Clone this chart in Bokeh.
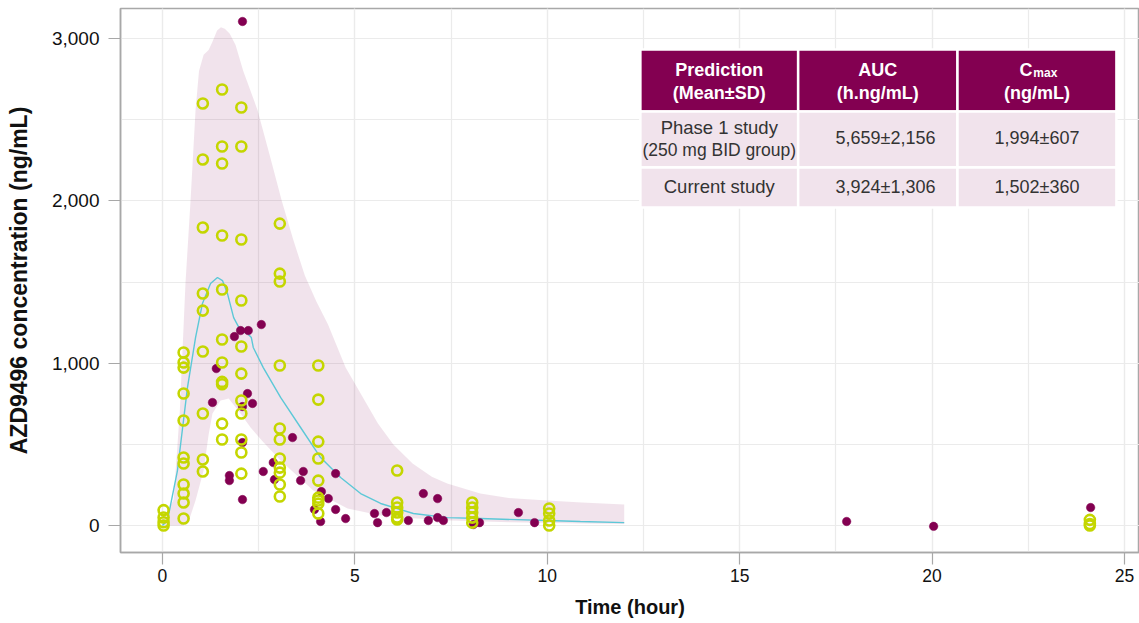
from bokeh.plotting import figure
from bokeh.models import Range1d, SingleIntervalTicker, NumeralTickFormatter
from bokeh.core.properties import value
from bokeh.embed import file_html
from bokeh.resources import INLINE

# ---------------- data ----------------
# Prediction band – upper edge, then lower edge (reversed)
band_up_t = [0.0, 0.15, 0.29, 0.45, 0.6, 0.73, 0.86, 0.95, 1.07, 1.2, 1.3, 1.42, 1.52, 1.62, 1.75, 1.9,
             2.1, 2.47, 2.8, 3.1, 3.4, 3.7, 4.0, 4.3, 4.76, 5.15, 5.6, 6.0, 6.5, 7.0, 7.4, 8.26, 9.0,
             10.0, 10.9, 12.0]
band_up_c = [40, 90, 160, 700, 1500, 2000, 2560, 2800, 2900, 2930, 2980, 3050, 3070, 3060, 3030, 2960,
             2800, 2560, 2270, 2000, 1760, 1540, 1380, 1240, 973, 813, 628, 500, 382, 300, 259, 197, 170,
             154, 142, 130]
band_lo_t = [12.0, 10.9, 9.0, 7.5, 6.5, 5.67, 4.81, 3.92, 3.07, 2.6, 2.29, 2.0, 1.72, 1.6, 1.51, 1.3,
             1.2, 1.07, 0.86, 0.7, 0.55, 0.0]
band_lo_c = [10, 12, 20, 31, 45, 62, 105, 216, 400, 520, 604, 700, 782, 775, 770, 690,
             560, 339, 154, 40, 0, 0]

# Median prediction
med_t = [0.0, 0.13, 0.39, 0.65, 0.86, 1.04, 1.25, 1.43, 1.56, 1.69, 1.85, 2.03, 2.21, 2.31, 2.36, 2.62,
         3.07, 3.59, 4.11, 4.63, 5.15, 5.67, 6.52, 7.41, 8.26, 10.0, 10.86, 12.0]
med_c = [0, 31, 339, 850, 1158, 1368, 1491, 1528, 1509, 1429, 1281, 1201, 1183, 1158, 1097, 973,
         789, 604, 419, 296, 197, 136, 74, 49, 43, 31, 25, 18]

# Phase 1 study observations (filled)
ph1_t = [2.08, 2.57, 2.03, 2.23, 1.87, 1.40, 2.21, 2.34, 1.30, 2.08, 2.08, 3.38, 2.88, 2.62, 2.91, 3.66,
         3.59, 4.50, 1.74, 1.74, 2.08, 4.13, 4.31, 3.95, 4.50, 4.11, 4.76, 5.51, 5.59, 5.82, 6.39, 6.78,
         7.15, 6.91, 7.15, 7.30, 8.08, 8.24, 9.25, 9.67, 17.78, 20.04, 24.12]
ph1_c = [3105, 1238, 1201, 1201, 1164, 967, 813, 752, 758, 733, 511, 542, 388, 333, 283, 333,
         277, 320, 308, 277, 160, 209, 166, 99, 99, 25, 43, 74, 18, 80, 31, 197,
         166, 31, 49, 31, 6, 18, 80, 18, 25, -5, 111]

# Current study observations (open)
cur_t = ([0.03] * 4 + [0.55] * 11 + [1.05] * 9 + [1.55] * 11 + [2.05] * 11 + [3.05] * 11 +
         [4.05] * 9 + [6.1] * 6 + [8.05] * 5 + [10.05] * 4 + [24.1] * 3)
cur_c = ([95, 50, 20, 0] +
         [1066, 1004, 973, 813, 647, 419, 382, 253, 197, 142, 43] +
         [2600, 2255, 1836, 1429, 1324, 1072, 690, 407, 333] +
         [2686, 2335, 2230, 1787, 1454, 1146, 1004, 885, 870, 628, 530] +
         [2575, 2335, 1762, 1386, 1103, 936, 770, 690, 530, 450, 320] +
         [1860, 1552, 1503, 986, 598, 530, 413, 357, 326, 253, 179] +
         [986, 776, 517, 413, 277, 172, 154, 135, 74] +
         [339, 142, 111, 80, 49, 37] +
         [142, 111, 80, 49, 18] +
         [105, 74, 31, 0] +
         [35, 10, 0])

# Table contents
tbl_header_l1 = ["Prediction", "AUC", ""]
tbl_header_l2 = ["(Mean±SD)", "(h.ng/mL)", "(ng/mL)"]
tbl_row1_name = ["Phase 1 study", "(250 mg BID group)"]
tbl_row1_vals = ["5,659±2,156", "1,994±607"]
tbl_row2_name = ["Current study"]
tbl_row2_vals = ["3,924±1,306", "1,502±360"]

# ---------------- styles ----------------
MULB = "#830051"
LIME = "#C4D600"
CYAN = "#5CC8D7"
PINK = "#F1E3EC"
FONT = "Liberation Sans"

p = figure(width=1139, height=623,
           x_range=Range1d(-1.09, 25.39), y_range=Range1d(-166, 3185),
           output_backend="svg", toolbar_location=None,
           min_border_left=120, min_border_right=0, min_border_top=8, min_border_bottom=71)
p.background_fill_color = "white"
p.border_fill_color = "white"
p.outline_line_color = "#a8a8a8"
p.outline_line_width = 1.5

# band + median
band_x = band_up_t + band_lo_t
band_y = band_up_c + band_lo_c
p.patch(band_x, band_y, fill_color=MULB, fill_alpha=0.11, line_color=None)
p.line(med_t, med_c, line_color=CYAN, line_width=1.4)

# observations
p.scatter(ph1_t, ph1_c, size=8.5, fill_color=MULB, line_color=MULB, line_width=0.5)
p.scatter(cur_t, cur_c, size=10, fill_color=None, line_color=LIME, line_width=2.6)

# ---- table (placed in data units) ----
col_edges = [12.42, 16.52, 20.66, 24.79]
row_edges = [2932, 2550, 2205, 1959]
col_mid = [(col_edges[i] + col_edges[i + 1]) / 2 for i in range(3)]
val_x = [col_mid[1] + 0.2, col_mid[2]]
hx0, hx1 = col_edges[:-1], col_edges[1:]
p.quad(left=hx0, right=hx1, top=[row_edges[0]] * 3, bottom=[row_edges[1]] * 3,
       fill_color=MULB, line_color="white", line_width=2.5)
p.quad(left=hx0 * 2, right=hx1 * 2, top=[row_edges[1]] * 3 + [row_edges[2]] * 3,
       bottom=[row_edges[2]] * 3 + [row_edges[3]] * 3,
       fill_color=PINK, line_color="white", line_width=2.5)

hdr_kw = dict(text_font=value(FONT), text_font_style="bold", text_font_size="18px",
              text_color="white", text_align="center", text_baseline="middle")
p.text(x=col_mid, y=[2809] * 3, text=tbl_header_l1, **hdr_kw)
p.text(x=col_mid, y=[2667] * 3, text=tbl_header_l2, **hdr_kw)
p.text(x=[22.61], y=[2809], text=["C"],
       **{**hdr_kw, "text_align": "right"})
p.text(x=[22.63], y=[2790], text=["max"],
       **{**hdr_kw, "text_align": "left", "text_font_size": "12px"})

body_kw = dict(text_font=value(FONT), text_font_size="18px", text_color="#333333",
               text_align="center", text_baseline="middle")
p.text(x=[col_mid[0]], y=[2452], text=tbl_row1_name[:1], **{**body_kw, "text_font_size": "18.5px"})
p.text(x=[col_mid[0]], y=[2316], text=tbl_row1_name[1:], **{**body_kw, "text_font_size": "17.5px"})
p.text(x=val_x, y=[2390] * 2, text=tbl_row1_vals, **body_kw)
p.text(x=[col_mid[0]], y=[2088], text=tbl_row2_name, **{**body_kw, "text_font_size": "18.5px"})
p.text(x=val_x, y=[2088] * 2, text=tbl_row2_vals, **body_kw)

# ---- axes ----
p.xaxis.ticker = SingleIntervalTicker(interval=5, num_minor_ticks=2)
p.yaxis.ticker = SingleIntervalTicker(interval=1000, num_minor_ticks=2)
p.yaxis.formatter = NumeralTickFormatter(format="0,0")
p.xaxis.axis_label = "Time (hour)"
p.yaxis.axis_label = "AZD9496 concentration (ng/mL)"
for ax in (p.xaxis, p.yaxis):
    ax.axis_line_color = "#a8a8a8"
    ax.axis_line_width = 1.5
    ax.major_tick_line_color = "#a8a8a8"
    ax.major_tick_line_width = 1.2
    ax.major_tick_in = 0
    ax.major_tick_out = 12
    ax.minor_tick_line_color = None
    ax.major_label_text_font = FONT
    ax.major_label_text_color = "#111111"
    ax.axis_label_text_font = FONT
    ax.axis_label_text_font_style = "bold"
    ax.axis_label_text_color = "#111111"
p.xaxis.major_label_text_font_size = "17.5px"
p.yaxis.major_label_text_font_size = "19px"
p.xaxis.major_label_standoff = 4
p.yaxis.major_label_standoff = 9
p.xaxis.axis_label_text_font_size = "20px"
p.yaxis.axis_label_text_font_size = "23px"
p.xaxis.axis_label_standoff = 11
p.yaxis.axis_label_standoff = 17

for g in (p.xgrid, p.ygrid):
    g.grid_line_color = "#ebebeb"
    g.grid_line_width = 1.2
    g.minor_grid_line_color = "#ebebeb"
    g.minor_grid_line_width = 1.2

open("out.html", "w").write(file_html(p, INLINE))
